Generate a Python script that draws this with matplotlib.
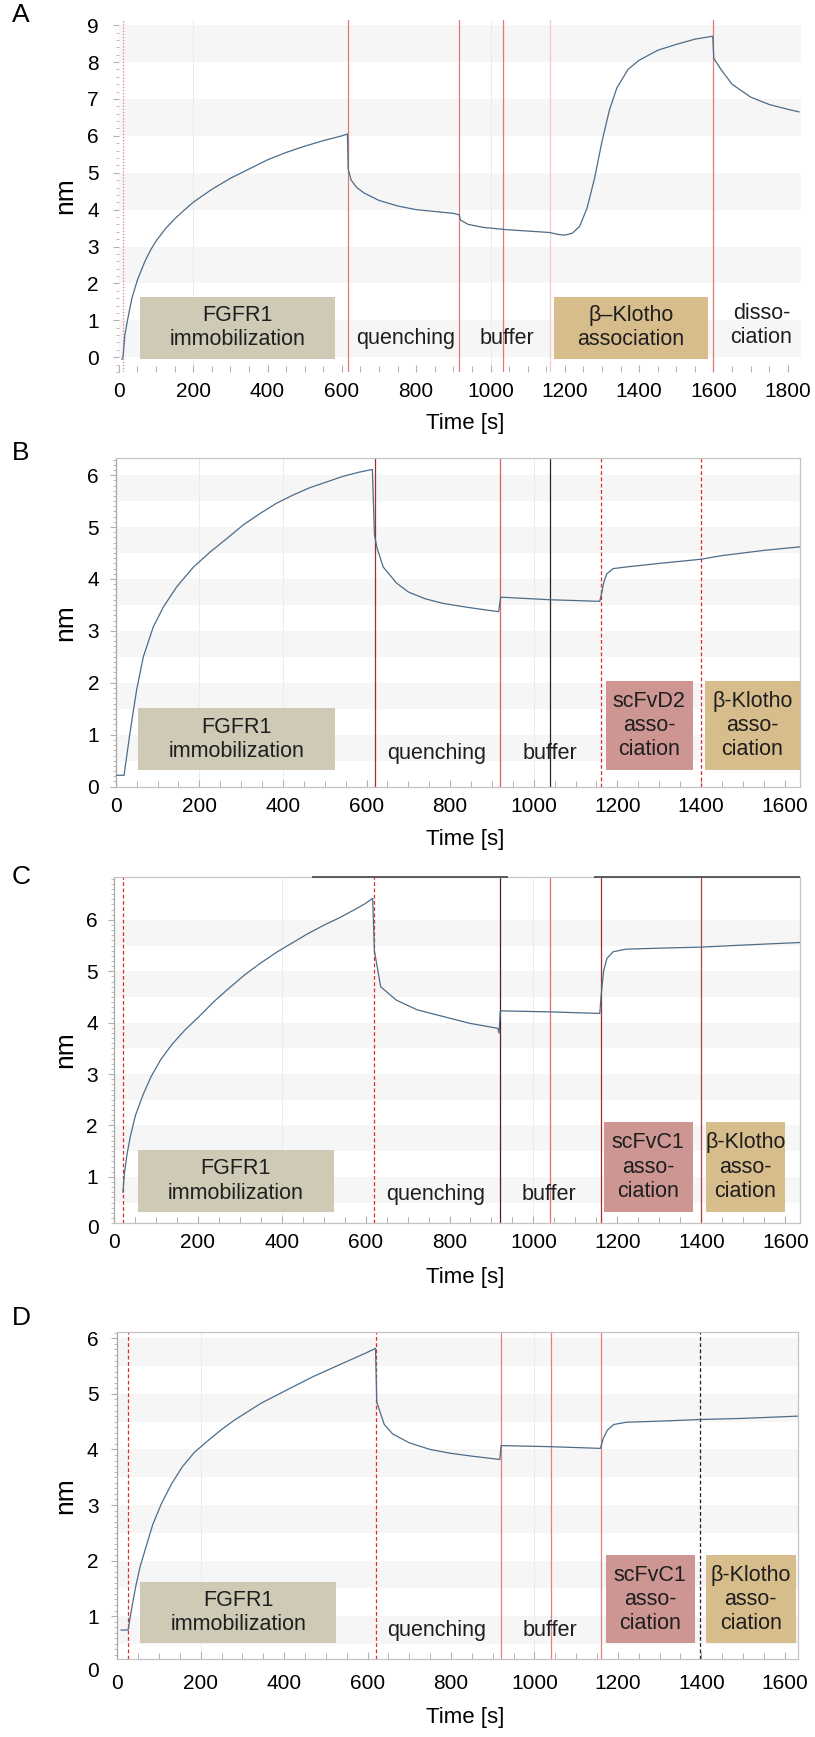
import matplotlib
matplotlib.use("Agg")
import matplotlib.pyplot as plt
from matplotlib.patches import Rectangle
from matplotlib.ticker import MultipleLocator

plt.rcParams['font.family'] = ['Liberation Sans', 'DejaVu Sans']

# ---------------- data ----------------
# panel A : FGFR1 -> quenching -> buffer -> beta-Klotho -> dissociation
time_a = [8, 11, 16, 25, 35, 50, 70, 85, 100, 125, 150, 175, 200, 250, 300, 350, 400, 450, 500, 550, 600, 615,
          617, 625, 640, 660, 700, 750, 800, 850, 900, 916,
          919, 940, 980, 1040, 1100, 1160, 1180, 1200, 1220, 1240, 1260, 1280, 1300, 1320, 1340,
          1370, 1400, 1450, 1500, 1550, 1598,
          1601, 1620, 1650, 1700, 1750, 1800, 1830]
nm_a = [-0.05, 0.0, 0.6, 1.1, 1.6, 2.1, 2.6, 2.9, 3.15, 3.48, 3.75, 3.98, 4.2, 4.55, 4.85, 5.1, 5.35, 5.55, 5.72,
        5.87, 6.0, 6.05,
        5.1, 4.8, 4.6, 4.45, 4.25, 4.1, 4.0, 3.95, 3.9, 3.86,
        3.72, 3.6, 3.52, 3.46, 3.42, 3.38, 3.33, 3.31, 3.36, 3.55, 4.05, 4.85, 5.85, 6.7, 7.3,
        7.8, 8.05, 8.32, 8.48, 8.62, 8.7,
        8.1, 7.8, 7.4, 7.05, 6.85, 6.72, 6.65]
steps_a = [10, 616, 915, 1034, 1160, 1600]

# panel B : FGFR1 -> quenching -> buffer -> scFvD2 -> beta-Klotho
time_b = [2, 20, 24, 34, 50, 66, 90, 114, 146, 186, 226, 266, 305, 345, 385, 425, 465, 505, 545, 584, 614,
          619, 625, 640, 672, 700, 740, 783, 845, 916,
          921, 1040, 1158, 1163, 1168, 1175, 1190, 1220, 1300, 1400, 1450, 1500, 1550, 1638]
nm_b = [0.22, 0.22, 0.45, 1.03, 1.86, 2.5, 3.08, 3.46, 3.85, 4.23, 4.52, 4.78, 5.04, 5.26, 5.46, 5.62, 5.76,
        5.87, 5.98, 6.06, 6.11,
        4.85, 4.6, 4.23, 3.92, 3.75, 3.62, 3.53, 3.45, 3.37,
        3.65, 3.6, 3.57, 3.75, 3.95, 4.1, 4.2, 4.23, 4.3, 4.38, 4.45, 4.5, 4.55, 4.62]
steps_b = [620, 920, 1040, 1160, 1400]

# panel C : FGFR1 -> quenching -> buffer -> scFvC1 -> beta-Klotho
time_c = [22, 26, 32, 40, 52, 70, 89, 112, 139, 170, 201, 240, 276, 312, 350, 390, 425, 460, 499, 540, 574,
          600, 617,
          621, 636, 673, 723, 785, 847, 915, 918,
          921, 1040, 1158, 1162, 1167, 1175, 1190, 1220, 1300, 1400, 1500, 1635]
nm_c = [0.7, 1.1, 1.45, 1.8, 2.2, 2.6, 2.95, 3.28, 3.58, 3.86, 4.1, 4.42, 4.68, 4.93, 5.16, 5.38, 5.55, 5.72,
        5.89, 6.05, 6.2, 6.32, 6.42,
        5.4, 4.7, 4.44, 4.25, 4.12, 3.99, 3.89, 3.8,
        4.23, 4.21, 4.18, 4.6, 5.0, 5.25, 5.38, 5.43, 5.45, 5.47, 5.51, 5.56]
steps_c = [22, 621, 920, 1040, 1160, 1400]

# panel D : FGFR1 -> quenching -> buffer -> scFvC1 -> beta-Klotho
time_d = [9, 26, 31, 36, 44, 55, 69, 85, 106, 130, 156, 185, 219, 250, 281, 344, 406, 469, 531, 594, 619,
          622, 640, 660, 700, 750, 800, 850, 917,
          920, 1040, 1158, 1165, 1175, 1190, 1220, 1300, 1400, 1500, 1630]
nm_d = [0.75, 0.75, 0.99, 1.2, 1.53, 1.9, 2.25, 2.65, 3.03, 3.38, 3.69, 3.95, 4.17, 4.36, 4.53, 4.83, 5.07,
        5.31, 5.52, 5.73, 5.82,
        4.85, 4.45, 4.28, 4.12, 4.0, 3.93, 3.88, 3.82,
        4.07, 4.05, 4.02, 4.2, 4.35, 4.45, 4.49, 4.51, 4.54, 4.56, 4.6]
steps_d = [26, 621, 919, 1040, 1160, 1396]

x_ticks_a = [0, 200, 400, 600, 800, 1000, 1200, 1400, 1600, 1800]
x_ticks_bcd = [0, 200, 400, 600, 800, 1000, 1200, 1400, 1600]
y_ticks_a = [0, 1, 2, 3, 4, 5, 6, 7, 8, 9]
y_ticks_bcd = [0, 1, 2, 3, 4, 5, 6]

# ---------------- colours ----------------
C_FGFR = '#cecab6'
C_KLOTHO = '#d8bd8c'
C_SCFV = '#cd9692'
C_CURVE = '#4d6c88'
C_BAND = '#f6f6f6'

W, H = 815, 1737
fig = plt.figure(figsize=(W / 100, H / 100), dpi=100)


def add_px_axes(left, right, top, bottom):
    return fig.add_axes([left / W, 1 - bottom / H, (right - left) / W, (bottom - top) / H])


panels = [
    dict(letter='A', t=time_a, y=nm_a, steps=steps_a,
         step_styles=[('#e07a7a', ':'), ('#e07a7a', '-'), ('#e07a7a', '-'), ('#e07a7a', '-'),
                      ('#f2cccc', '-'), ('#e07a7a', '-')],
         box=(118.9, 800.8, 20, 372), xlim=(0, 1835), ylim=(-0.4, 9.14),
         xticks=x_ticks_a, yticks=y_ticks_a, yminor=0.2, grid=(200, 1000),
         bands=[(k, k + 1) for k in range(0, 9, 2)],
         boxes=[(56, 582, -0.04, 1.64, C_FGFR, 'FGFR1\nimmobilization'),
                (1170, 1585, -0.04, 1.64, C_KLOTHO, '\u03b2\u2013Klotho\nassociation')],
         labels=[(772, 0.5, 'quenching'), (1044, 0.5, 'buffer'), (1729, 0.85, 'disso-\nciation')],
         spines=False, xpad=7, ypad=10.5, letter_y=15, time_y=423, zero=False),
    dict(letter='B', t=time_b, y=nm_b, steps=steps_b,
         step_styles=[('#9a3030', '-'), ('#d86060', '-'), ('#3a2020', '-'), ('#e02828', '--'),
                      ('#e02828', '--')],
         box=(115.7, 800, 458, 787), xlim=(0, 1637), ylim=(-0.006, 6.33),
         xticks=x_ticks_bcd, yticks=y_ticks_bcd, yminor=0.1, grid=(200, 400, 1000),
         bands=[(k - 0.5, k) for k in range(1, 7)],
         boxes=[(54, 525, 0.32, 1.51, C_FGFR, 'FGFR1\nimmobilization'),
                (1172, 1381, 0.32, 2.04, C_SCFV, 'scFvD2\nasso-\nciation'),
                (1410, 1637, 0.32, 2.04, C_KLOTHO, '\u03b2-Klotho\nasso-\nciation')],
         labels=[(768, 0.64, 'quenching'), (1039, 0.64, 'buffer')],
         spines=True, xpad=7.5, ypad=8, letter_y=453, time_y=840, zero=False),
    dict(letter='C', t=time_c, y=nm_c, steps=steps_c,
         step_styles=[('#e02828', '--'), ('#e02828', '--'), ('#5a2020', '-'), ('#e07070', '-'),
                      ('#a03030', '-'), ('#b04040', '-')],
         box=(113.7, 800, 876.7, 1223.3), xlim=(0, 1635), ylim=(0.097, 6.84),
         xticks=x_ticks_bcd, yticks=y_ticks_bcd, yminor=0.1, grid=(400, 1000),
         bands=[(k - 0.5, k) for k in range(1, 7)],
         boxes=[(58, 524, 0.32, 1.52, C_FGFR, 'FGFR1\nimmobilization'),
                (1168, 1379, 0.32, 2.06, C_SCFV, 'scFvC1\nasso-\nciation'),
                (1410, 1599, 0.32, 2.06, C_KLOTHO, '\u03b2-Klotho\nasso-\nciation')],
         labels=[(766, 0.65, 'quenching'), (1036, 0.65, 'buffer')],
         spines=True, xpad=7, ypad=7.5, letter_y=877, time_y=1277, zero=True,
         top_marks=[(472, 940), (1145, 1636)]),
    dict(letter='D', t=time_d, y=nm_d, steps=steps_d,
         step_styles=[('#e02828', '--'), ('#e02828', '--'), ('#e08080', '-'), ('#e08080', '-'),
                      ('#e08080', '-'), ('#202020', '--')],
         box=(117.3, 797.7, 1331.7, 1659), xlim=(0, 1631), ylim=(0.229, 6.12),
         xticks=x_ticks_bcd, yticks=y_ticks_bcd, yminor=0.1, grid=(200, 1000),
         bands=[(k - 0.5, k) for k in range(1, 7)],
         boxes=[(54, 525, 0.51, 1.62, C_FGFR, 'FGFR1\nimmobilization'),
                (1171, 1384, 0.51, 2.1, C_SCFV, 'scFvC1\nasso-\nciation'),
                (1410, 1627, 0.51, 2.1, C_KLOTHO, '\u03b2-Klotho\nasso-\nciation')],
         labels=[(766, 0.75, 'quenching'), (1037, 0.75, 'buffer')],
         spines=True, xpad=11, ypad=9.5, letter_y=1318, time_y=1717, zero=True),
]

for p in panels:
    left, right, top, bottom = p['box']
    ax = add_px_axes(left, right, top, bottom)

    # ticks first: set_ticks widens the limits, so limits come after
    ax.set_xticks(p['xticks'])
    ax.set_yticks(p['yticks'])
    ax.xaxis.set_minor_locator(MultipleLocator(50))
    ax.yaxis.set_minor_locator(MultipleLocator(p['yminor']))
    ax.set_xlim(*p['xlim'])
    ax.set_ylim(*p['ylim'])

    # alternating light bands and faint vertical grid
    for lo, hi in p['bands']:
        ax.axhspan(lo, hi, color=C_BAND, lw=0, zorder=0)
    for gx in p['grid']:
        ax.axvline(gx, color='#ebebeb', lw=0.7, zorder=0.5)

    # phase boxes and labels
    for x0, x1, y0, y1, col, txt in p['boxes']:
        ax.add_patch(Rectangle((x0, y0), x1 - x0, y1 - y0, fc=col, ec='none', zorder=1))
        ax.text((x0 + x1) / 2, (y0 + y1) / 2, txt, ha='center', va='center',
                fontsize=15.5, color='#1e1e1e', linespacing=1.2, zorder=4)
    for lx, ly, txt in p['labels']:
        ax.text(lx, ly, txt, ha='center', va='center', fontsize=15.5, color='#1e1e1e',
                linespacing=1.2, zorder=4)

    # step boundaries
    for sx, (col, ls) in zip(p['steps'], p['step_styles']):
        line = ax.axvline(sx, color=col, lw=0.9, zorder=2)
        if ls == '--':
            line.set_dashes((3, 2))
        elif ls == ':':
            line.set_dashes((1, 1.5))

    # sensorgram trace
    ax.plot(p['t'], p['y'], color=C_CURVE, lw=0.9, zorder=3)

    # axes styling
    ax.tick_params(axis='x', which='both', direction='in', color='#b0b0b0',
                   labelsize=15, pad=p['xpad'])
    ax.tick_params(axis='x', which='major', length=5, width=0.8)
    ax.tick_params(axis='x', which='minor', length=4, width=0.7)
    ax.tick_params(axis='y', which='both', direction='out', color='#b0b0b0',
                   labelsize=15, pad=p['ypad'])
    ax.tick_params(axis='y', which='major', length=4, width=0.8)
    ax.tick_params(axis='y', which='minor', length=2.5, width=0.6)
    for s in ax.spines.values():
        s.set_visible(p['spines'])
        s.set_color('#c4c4c4')
        s.set_linewidth(0.9)
    if p['spines']:
        ax.spines['left'].set_color('#a8a8a8')

    # "0" drawn by hand where the plot floor sits above zero
    if p['zero']:
        ax.text(-(left - 93) / (right - left), 0, '0', transform=ax.get_yaxis_transform(),
                ha='center', va='center', fontsize=15, clip_on=False)

    for x0, x1 in p.get('top_marks', []):
        ax.hlines(p['ylim'][1], x0, x1, color='#505050', lw=1.3, clip_on=False, zorder=5)

    mid = 1 - (top + bottom) / 2 / H
    fig.text(65 / W, mid, 'nm', rotation=90, ha='center', va='center', fontsize=19)
    fig.text(465 / W, 1 - p['time_y'] / H, 'Time [s]', ha='center', va='center', fontsize=16)
    fig.text(21 / W, 1 - p['letter_y'] / H, p['letter'], ha='center', va='center', fontsize=19)

fig.savefig('out.png', dpi=100)
